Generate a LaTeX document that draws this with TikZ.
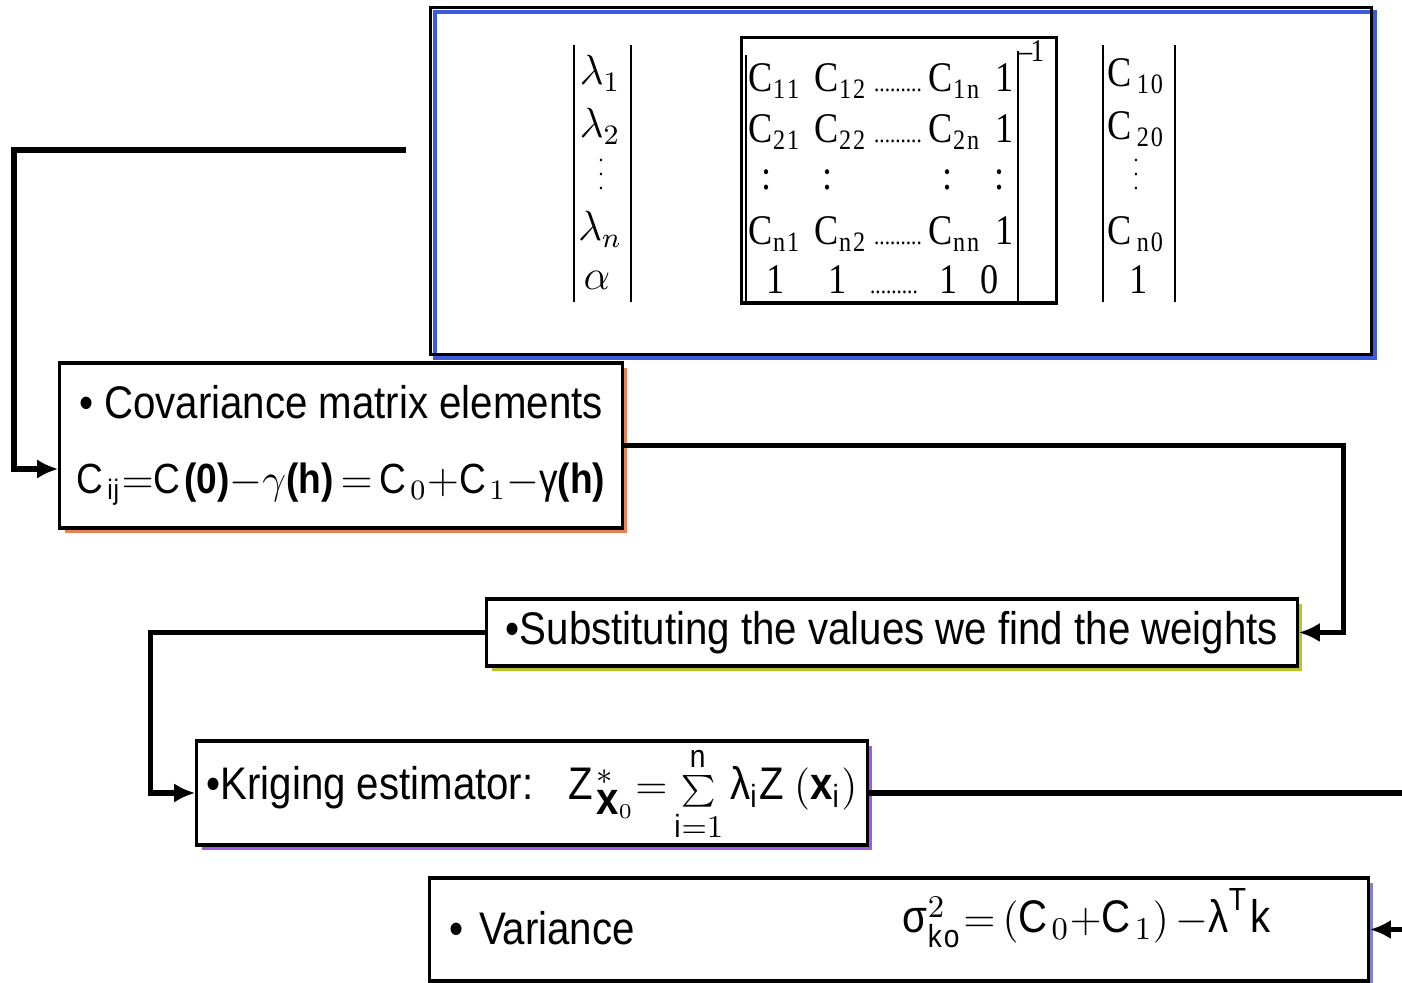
\documentclass[tikz,border=0pt]{standalone}
\usepackage{amsmath}
\usepackage{fontspec}
\setmainfont[FakeStretch=0.86]{Liberation Serif}
\setsansfont[FakeStretch=0.88]{Liberation Sans}
\usetikzlibrary{arrows.meta,positioning,calc,shadows}

\definecolor{matblue}{RGB}{60,90,220}
\definecolor{covorange}{RGB}{232,128,88}
\definecolor{subolive}{RGB}{184,196,40}
\definecolor{krigviolet}{RGB}{160,90,230}
\definecolor{varlav}{RGB}{130,130,200}

\begin{document}
\begin{tikzpicture}[x=0.01cm, y=-0.01cm,
    box/.style={draw, line width=0.9pt, fill=white, rectangle, inner sep=0pt, font=\sffamily\fontsize{13}{15}\selectfont},
    tint/.style={drop shadow={fill=#1, opacity=1, shadow xshift=0.05cm, shadow yshift=-0.05cm}},
    flow/.style={-{Latex[length=6pt,width=5.5pt]}, line width=1.5pt},
    ent/.style={anchor=base, inner sep=0pt, font=\fontsize{12}{14}\selectfont},
    vdot/.style={ent, font=\fontsize{6.5}{7}\selectfont},
    lead/.style={ent, font=\fontsize{7}{8}\selectfont},
    bar/.style={line width=0.6pt}
  ]
    \fill[white] (0,0) rectangle (1402,983);
    \useasboundingbox (0,0) rectangle (1402,983);

    % Sistema de krigagem
    \node[draw, line width=0.9pt, minimum width=9.40cm, minimum height=3.46cm,
      drop shadow={draw=matblue, fill=none, opacity=1, line width=1.2pt, shadow xshift=0.04cm, shadow yshift=-0.04cm}] (mat) at (901,181) {};

    % Vetor dos pesos
    \draw[bar] (574,45) -- (574,302);
    \draw[bar] (631,45) -- (631,302);
    \node[ent] (l1) at (600,85) {$\lambda_1$};
    \node[ent] (l2) at (600,138) {$\lambda_2$};
    \node[vdot] (l3) at (601,190) {$\vdots$};
    \node[ent] (ln) at (600,241) {$\lambda_n$};
    \node[ent] (la) at (597,290) {$\alpha$};

    % Matriz de covariancias
    \node[draw, line width=0.9pt, minimum width=3.14cm, minimum height=2.65cm, inner sep=0pt] (cmat) at (899,170.5) {};
    \draw[bar] (746,55) -- (746,303);
    \draw[bar] (1018,51) -- (1018,303);
    \node[ent, anchor=base west, font=\fontsize{9}{10}\selectfont] (inv) at (1018,62) {--\kern-0.5pt1};
    \foreach \r/\y in {1/92,2/143,n/245}{
      \node[ent] (c\r1) at (776,\y) {C$_{\mathrm{\r 1}}$};
      \node[ent] (c\r2) at (842,\y) {C$_{\mathrm{\r 2}}$};
      \node[lead] (d\r) at (898,\y) {.........};
      \node[ent] (c\r n) at (956,\y) {C$_{\mathrm{\r n}}$};
      \node[ent] (o\r) at (1005,\y) {1};
    }
    \foreach \x in {767,828,948,1000}
      \node[ent] (v\x) at (\x,190) {:};
    \node[ent] (u1) at (776,294) {1};
    \node[ent] (u2) at (838,294) {1};
    \node[lead] (du) at (894,294) {.........};
    \node[ent] (un) at (949,294) {1};
    \node[ent] (uz) at (990,294) {0};

    % Vetor do lado direito
    \draw[bar] (1103,45) -- (1103,302);
    \draw[bar] (1175,45) -- (1175,302);
    \node[ent] (k1) at (1137,87) {C\kern1.5pt$_{\mathrm{10}}$};
    \node[ent] (k2) at (1137,140) {C\kern1.5pt$_{\mathrm{20}}$};
    \node[vdot] (k3) at (1136,190) {$\vdots$};
    \node[ent] (kn) at (1137,245) {C\kern1.5pt$_{\mathrm{n0}}$};
    \node[ent] (k0) at (1139,294) {1};

    % Caixas
    \node[box, tint=covorange, minimum width=5.62cm, minimum height=1.65cm, align=center] (cov) at (341,445.5)
      {\textbullet\ Covariance matrix elements\\[0.22cm]
       {\fontsize{12}{14}\selectfont$\mathsf{C}_{\mathsf{ij}}{=}\mathsf{C}\textbf{(0)}{-}\gamma\textbf{(h)}\,{=}\,\mathsf{C}_0{+}\mathsf{C}_1{-}\mbox{γ}\textbf{(h)}$}};
    \node[box, tint=subolive, minimum width=8.10cm, minimum height=0.67cm] (sub) at (892,632.5)
      {\textbullet Substituting the values we find the weights};
    \node[box, tint=krigviolet, minimum width=6.70cm, minimum height=1.04cm] (krig) at (532,793)
      {\textbullet Kriging estimator:\hspace{0.35cm}$\mathsf{Z}^{*}_{\mbox{\bfseries x}_0}{=}\mathop{\scriptstyle\sum}\limits_{\mathsf{i}=1}^{\mathsf{n}}\mbox{λ}_{\mathsf{i}}\mathsf{Z}\left(\mbox{\bfseries x}_{\mathsf{i}}\right)$\rule{0pt}{0.55cm}};
    \node[box, tint=varlav, minimum width=9.38cm, minimum height=1.03cm, text width=8.98cm, align=left] (var) at (899,929.5)
      {\makebox[4.53cm][l]{\textbullet\ Variance}\raisebox{0.12cm}{$\mbox{σ}^2_{\mathsf{ko}}{=}\left(\mathsf{C}_0{+}\mathsf{C}_1\right){-}\mbox{λ}^{\mathsf{T}}\mathsf{k}$}\rule[-0.25cm]{0pt}{0pt}};

    % Ligacoes
    \coordinate (matout) at (406,150);
    \draw[flow] (matout) -- ++(-392,0) |- ($(cov.west)+(0,23.5)$);
    \draw[flow] (cov.east) -- ++(720,0) |- (sub.east);
    \draw[flow] (sub.west) -- ++(-335,0) |- (krig.west);
    \draw[flow] (krig.east) -- ++(545,0) |- (var.east);
\end{tikzpicture}
\end{document}
